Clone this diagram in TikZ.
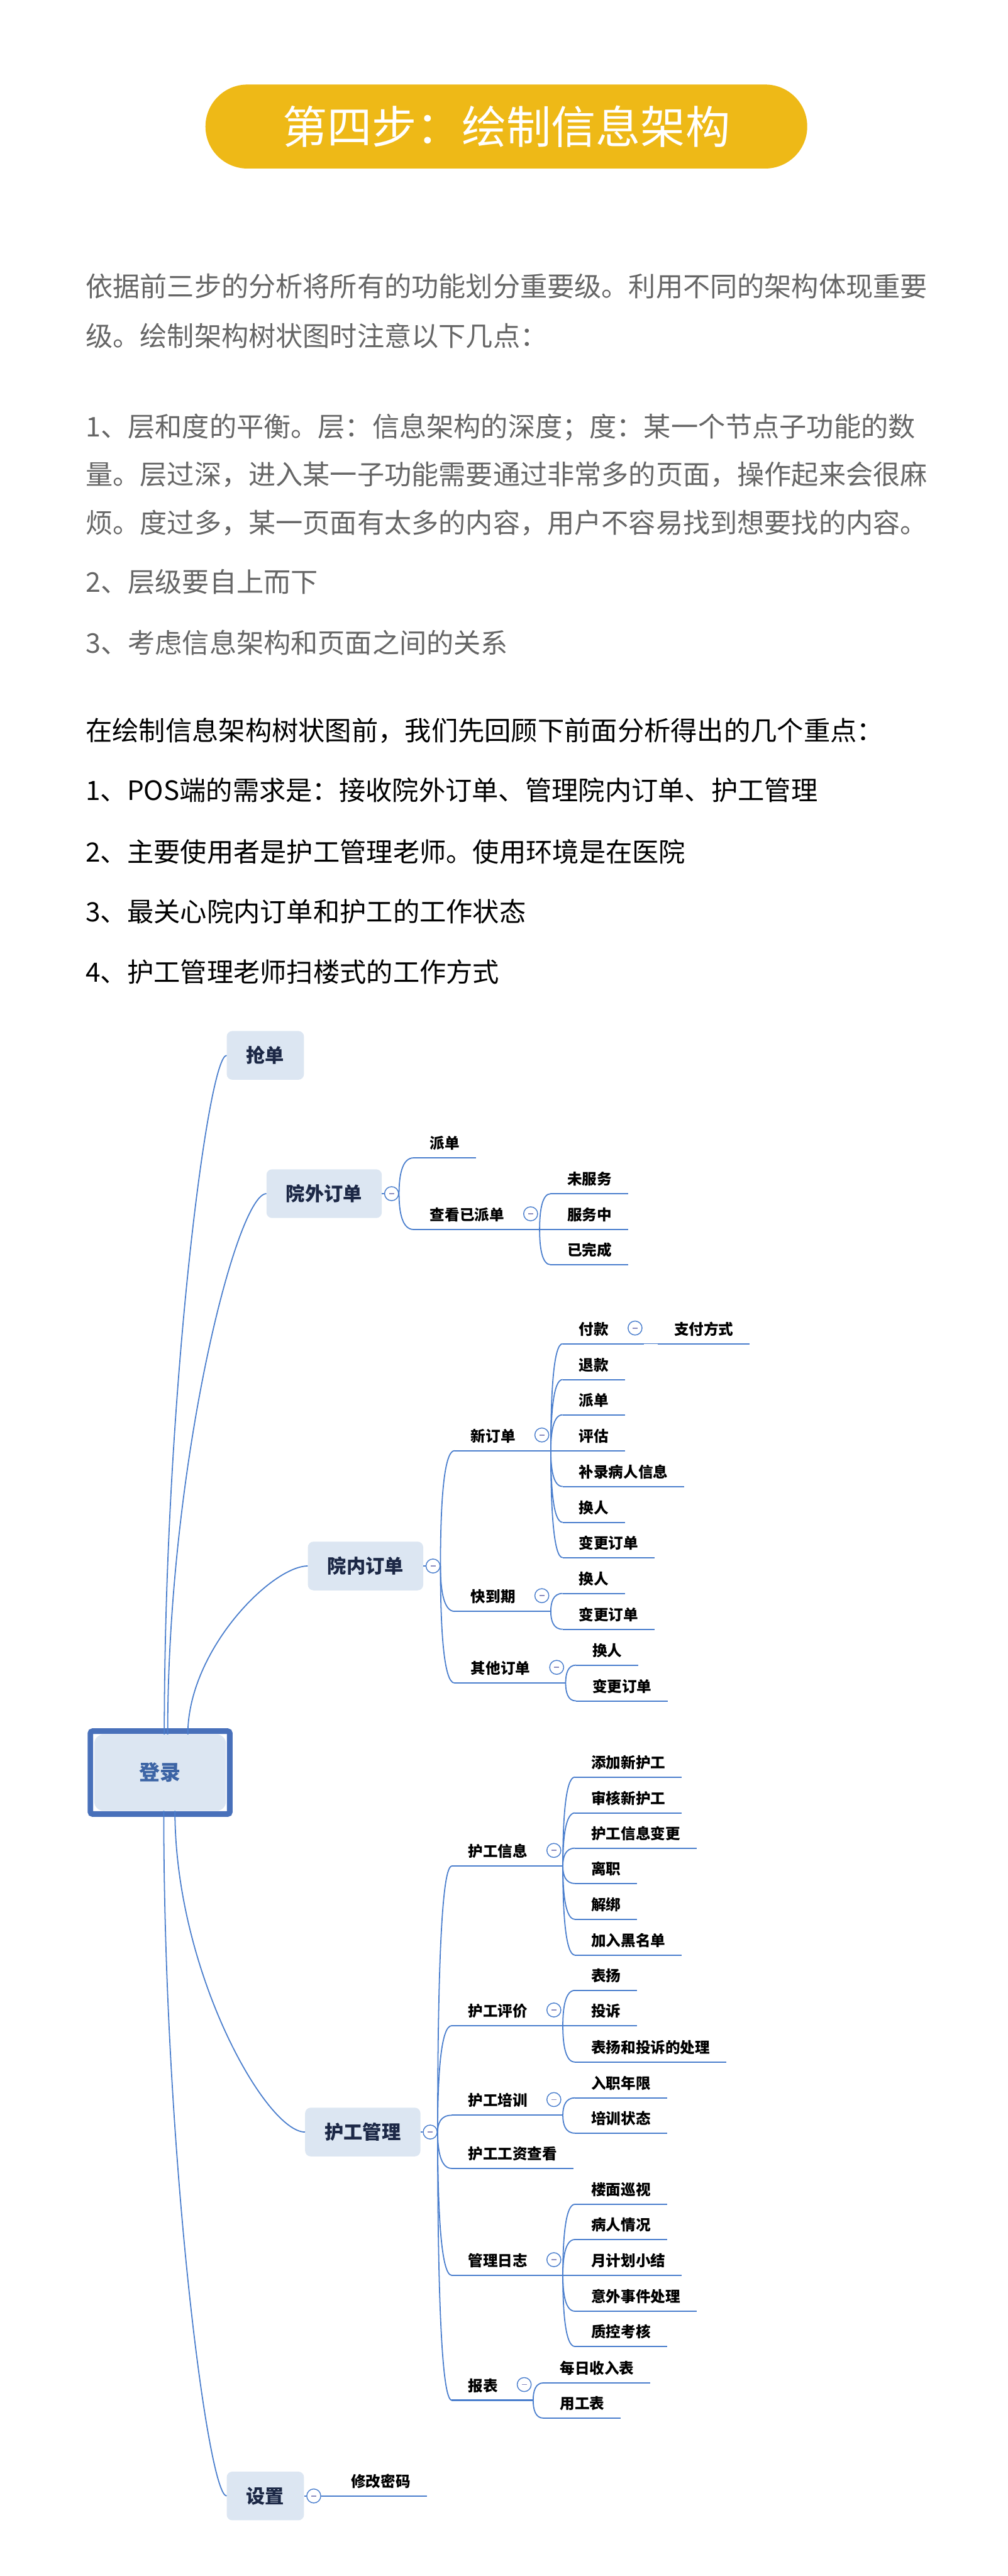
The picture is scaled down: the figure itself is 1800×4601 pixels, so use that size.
\documentclass[tikz,border=0pt]{standalone}
\usepackage{fontspec}
\setmainfont{Noto Sans CJK SC}
\usetikzlibrary{positioning,calc}
\definecolor{gold}{RGB}{238,185,23}
\definecolor{greytxt}{RGB}{102,102,102}
\definecolor{linkblue}{RGB}{74,126,205}
\definecolor{boxfill}{RGB}{220,230,242}
\definecolor{navy}{RGB}{28,40,70}
\definecolor{rootblue}{RGB}{72,112,186}
\definecolor{roottxt}{RGB}{60,100,165}
\definecolor{knobdash}{RGB}{140,140,190}

\tikzset{
  titlebar/.style={fill=gold, rounded corners=75pt, minimum width=1075pt,
    minimum height=150pt, inner sep=0pt, text=white,
    font=\fontsize{80}{96}\selectfont},
  para/.style={anchor=base west, inner sep=0pt, text=greytxt,
    font=\fontsize{48.5}{58}\selectfont},
  keypt/.style={anchor=base west, inner sep=0pt, text=black,
    font=\fontsize{47.5}{57}\selectfont},
  link/.style={draw=linkblue, line width=2pt},
  uline/.style={draw=linkblue, line width=2.4pt},
  rootframe/.style={draw=rootblue, line width=10pt, fill=white,
    rounded corners=4pt, minimum width=249pt, minimum height=148pt, inner sep=0pt},
  rootbox/.style={fill=boxfill, rounded corners=16pt, minimum width=235pt,
    minimum height=136pt, inner sep=0pt, text=roottxt,
    font=\fontsize{37}{44}\selectfont\bfseries},
  topic/.style={fill=boxfill, rounded corners=10pt, minimum height=87pt,
    inner xsep=35pt, text=navy, font=\fontsize{34}{40}\selectfont\bfseries},
  knob/.style={circle, draw=linkblue, line width=1.6pt, fill=white,
    minimum size=25pt, inner sep=0pt},
  leaf/.style={anchor=south west, inner xsep=29pt, inner ysep=0pt,
    text depth=16pt, text=black, font=\fontsize{26.5}{30}\selectfont\bfseries},
  hub/.style={leaf, execute at end node=\hspace*{34pt}},
}
\newcommand{\knobbar}{\textcolor{knobdash}{\rule{9pt}{2pt}}}
\newcommand{\twig}[3][0.2]{%
  \draw[link] (#2) .. controls ($(#2)!0.5!(#2|-#3)$) and ($(#2|-#3)!#1!(#3)$) .. (#3);}

\begin{document}
\begin{tikzpicture}[x=1pt,y=-1pt]
  \useasboundingbox (0,0) rectangle (1800,4601);

  % heading
  \node[titlebar] (title) at (904.5,226) {第四步：绘制信息架构};

  % notes
  \foreach \y/\txt [count=\i] in {
    530/{依据前三步的分析将所有的功能划分重要级。利用不同的架构体现重要},
    618/{级。绘制架构树状图时注意以下几点：},
    780/{1、层和度的平衡。层：信息架构的深度；度：某一个节点子功能的数},
    865/{量。层过深，进入某一子功能需要通过非常多的页面，操作起来会很麻},
    952/{烦。度过多，某一页面有太多的内容，用户不容易找到想要找的内容。},
    1058/{2、层级要自上而下},
    1166/{3、考虑信息架构和页面之间的关系}}
    \node[para] (g\i) at (153,\y) {\txt};
  \foreach \y/\txt [count=\i] in {
    1323/{在绘制信息架构树状图前，我们先回顾下前面分析得出的几个重点：},
    1429/{1、POS端的需求是：接收院外订单、管理院内订单、护工管理},
    1539/{2、主要使用者是护工管理老师。使用环境是在医院},
    1646/{3、最关心院内订单和护工的工作状态},
    1754/{4、护工管理老师扫楼式的工作方式}}
    \node[keypt] (k\i) at (153,\y) {\txt};

  % root
  \node[rootframe] (frame) at (286,3166) {};
  \node[rootbox] (login) at (286,3166) {登录};

  % first level
  \node[topic] (grab) at (474,1885) {抢单};
  \node[topic] (outord) at (579,2132) {院外订单};
  \node[topic] (inord) at (653,2797) {院内订单};
  \node[topic] (nurse) at (648,3808) {护工管理};
  \node[topic] (setup) at (474,4458) {设置};
  \foreach \n in {outord,inord,nurse,setup}{
    \node[knob, right=4pt of \n] (knob\n) {\knobbar};
    \draw[link] (\n.east) -- (knob\n.west);
  }
  \coordinate (ra) at ([xshift=7.5pt]login.north);
  \coordinate (rb) at ([xshift=13.5pt]login.north);
  \coordinate (rc) at ([xshift=49.5pt]login.north);
  \coordinate (rd) at ([xshift=6.5pt]login.south);
  \coordinate (re) at ([xshift=26.5pt]login.south);
  \twig[0.7]{ra}{grab.west}
  \twig[0.7]{rb}{outord.west}
  \twig[0.7]{rc}{inord.west}
  \twig[0.7]{re}{nurse.west}
  \twig[0.7]{rd}{setup.west}

  % outside orders
  \node[leaf] (od) at (739,2068) {派单};
  \node[hub] (ov) at (739,2196) {查看已派单};
  \foreach \y/\txt [count=\i] in {2132/未服务, 2196/服务中, 2259/已完成}
    \node[leaf] (ov\i) at (984,\y) {\txt};
  \foreach \n in {od,ov}{\twig{knoboutord.east}{\n.south west}}
  \foreach \n in {ov1,ov2,ov3}{\twig{ov.south east}{\n.south west}}

  % inside orders
  \node[hub] (inew) at (812,2591) {新订单};
  \node[hub] (idue) at (812,2878) {快到期};
  \node[hub] (ioth) at (812,3006) {其他订单};
  \foreach \n in {inew,idue,ioth}{\twig{knobinord.east}{\n.south west}}
  \node[hub] (ipay) at (1005,2400) {付款};
  \node[leaf] (ipaym) at (1175,2400) {支付方式};
  \foreach \y/\txt [count=\i from 2] in {2464/退款, 2527/派单, 2591/评估,
      2655/补录病人信息, 2719/换人, 2782/变更订单}
    \node[leaf] (in\i) at (1005,\y) {\txt};
  \foreach \n in {ipay,in2,in3,in4,in5,in6,in7}{\twig{inew.south east}{\n.south west}}
  \twig{ipay.south east}{ipaym.south west}
  \node[leaf] (id1) at (1005,2846) {换人};
  \node[leaf] (id2) at (1005,2910) {变更订单};
  \foreach \n in {id1,id2}{\twig{idue.south east}{\n.south west}}
  \node[leaf] (io1) at (1029,2974) {换人};
  \node[leaf] (io2) at (1029,3038) {变更订单};
  \foreach \n in {io1,io2}{\twig{ioth.south east}{\n.south west}}

  % nurse management
  \node[hub] (hinfo) at (807,3333) {护工信息};
  \node[hub] (heval) at (807,3618) {护工评价};
  \node[hub] (htrain) at (807,3778) {护工培训};
  \node[leaf] (hwage) at (807,3873) {护工工资查看};
  \node[hub] (hlog) at (807,4064) {管理日志};
  \node[hub] (hrep) at (807,4287) {报表};
  \foreach \n in {hinfo,heval,htrain,hwage,hlog,hrep}{\twig{knobnurse.east}{\n.south west}}
  \foreach \y/\txt [count=\i] in {3174/添加新护工, 3238/审核新护工, 3301/护工信息变更,
      3364/离职, 3428/解绑, 3492/加入黑名单}{
    \node[leaf] (hi\i) at (1027,\y) {\txt};
    \twig{hinfo.south east}{hi\i.south west}
  }
  \foreach \y/\txt [count=\i] in {3555/表扬, 3618/投诉, 3683/表扬和投诉的处理}{
    \node[leaf] (he\i) at (1027,\y) {\txt};
    \twig{heval.south east}{he\i.south west}
  }
  \foreach \y/\txt [count=\i] in {3747/入职年限, 3810/培训状态}{
    \node[leaf] (ht\i) at (1027,\y) {\txt};
    \twig{htrain.south east}{ht\i.south west}
  }
  \foreach \y/\txt [count=\i] in {3937/楼面巡视, 4000/病人情况, 4064/月计划小结,
      4128/意外事件处理, 4191/质控考核}{
    \node[leaf] (hl\i) at (1027,\y) {\txt};
    \twig{hlog.south east}{hl\i.south west}
  }
  \foreach \y/\txt [count=\i] in {4256/每日收入表, 4319/用工表}{
    \node[leaf] (hr\i) at (971,\y) {\txt};
    \twig{hrep.south east}{hr\i.south west}
  }

  % settings
  \node[leaf] (spw) at (598,4458) {修改密码};
  \twig{knobsetup.east}{spw.south west}

  % underlines and knobs
  \foreach \n in {od,ov,ov1,ov2,ov3,inew,idue,ioth,ipay,ipaym,in2,in3,in4,in5,in6,in7,
      id1,id2,io1,io2,hinfo,heval,htrain,hwage,hlog,hrep,hi1,hi2,hi3,hi4,hi5,hi6,
      he1,he2,he3,ht1,ht2,hl1,hl2,hl3,hl4,hl5,hr1,hr2,spw}
    \draw[uline] (\n.south west) -- (\n.south east);
  \foreach \n in {ov,inew,idue,ioth,ipay,hinfo,heval,htrain,hlog,hrep}
    \node[knob] (knob\n) at ([xshift=-16pt,yshift=28pt]\n.south east) {\knobbar};
\end{tikzpicture}
\end{document}
